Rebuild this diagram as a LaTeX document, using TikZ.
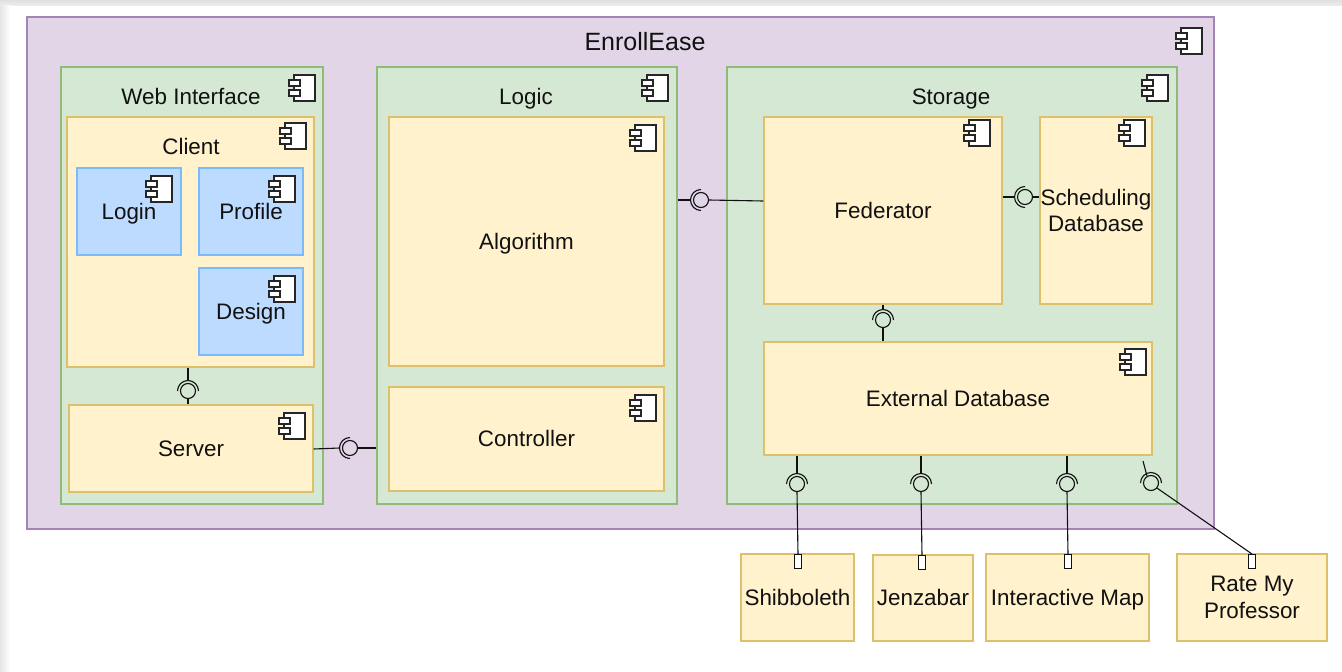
\documentclass[tikz,border=0pt]{standalone}
\usepackage{fontspec}
\setmainfont{Liberation Sans}
\definecolor{purpf}{HTML}{E1D5E7}\definecolor{purpd}{HTML}{A484B3}
\definecolor{grnf}{HTML}{D5E8D4}\definecolor{grnd}{HTML}{8FBB78}
\definecolor{yelf}{HTML}{FFF2CC}\definecolor{yeld}{HTML}{DDC06C}
\definecolor{bluf}{HTML}{BDDBFF}\definecolor{blud}{HTML}{7ABBFF}
\definecolor{ink}{HTML}{111111}
\tikzset{
  base/.style={rectangle,inner sep=0pt,line width=1.3pt,align=center,text=ink,font=\fontsize{22.4}{26.5}\selectfont},
  one/.style={text height=15pt,text depth=0pt},
  purp/.style={base,draw=purpd,fill=purpf},
  grn/.style={base,draw=grnd,fill=grnf},
  yel/.style={base,draw=yeld,fill=yelf},
  blu/.style={base,draw=blud,fill=bluf},
  title/.style={inner sep=0pt,anchor=base,text=ink,font=\fontsize{22.4}{26.5}\selectfont},
  ball/.style={circle,draw=ink,line width=1.1pt,minimum size=15pt,inner sep=0pt},
  wire/.style={draw=ink,line width=1.1pt},
  portbox/.style={rectangle,draw=ink,fill=white,line width=1.1pt,minimum width=7pt,minimum height=14pt,inner sep=0pt},
  ic/.style={draw=black!85,line width=1.2pt,fill=white}
}
% name, x0, y0, x1, y1, style, text
\newcommand{\cbox}[7]{%
  \pgfmathsetmacro{\cx}{(#2+#4)/2}\pgfmathsetmacro{\cy}{(#3+#5)/2}%
  \pgfmathsetmacro{\cw}{#4-#2}\pgfmathsetmacro{\ch}{#5-#3}%
  \node[#6,minimum width=\cw pt,minimum height=\ch pt] (#1) at (\cx,\cy) {#7};}
% right edge, top
\newcommand{\cicon}[2]{%
  \pgfmathsetmacro{\ia}{#1-26}\pgfmathsetmacro{\ib}{#1-21}\pgfmathsetmacro{\ic}{#1-15}%
  \pgfmathsetmacro{\ja}{#2+26}\pgfmathsetmacro{\jb}{#2+5}\pgfmathsetmacro{\jc}{#2+11}%
  \pgfmathsetmacro{\jd}{#2+15}\pgfmathsetmacro{\je}{#2+21}%
  \draw[ic] (\ib,#2) rectangle (#1,\ja);
  \draw[ic] (\ia,\jb) rectangle (\ic,\jc);
  \draw[ic] (\ia,\jd) rectangle (\ic,\je);}
% socket arcs, around a named ball
\newcommand{\sockettop}[1]{\draw[wire] ([xshift=-10.5pt]#1.center) arc[start angle=180,end angle=0,radius=10.5pt];}
\newcommand{\socketleft}[1]{\draw[wire] ([yshift=10.5pt]#1.center) arc[start angle=90,end angle=270,radius=10.5pt];}
\begin{document}
\begin{tikzpicture}[x=1pt,y=-1pt]
\useasboundingbox (0,0) rectangle (1342,672);
\fill[white] (0,0) rectangle (1342,672);
\shade[top color=black!12,bottom color=black!7,draw=none] (0,0) rectangle (1342,5.5);
\shade[left color=black!10,right color=white,draw=none] (0,5.5) rectangle (10,672);

\cbox{enroll}{27}{17}{1214}{529}{purp}{}
\node[title,font=\fontsize{25}{30}\selectfont] (enrollt) at (645,50) {EnrollEase};
\cicon{1202}{28}

\cbox{web}{61}{67}{323}{504}{grn}{}
\node[title] (webt) at (191,104.5) {Web Interface};
\cicon{315}{75}
\cbox{client}{67}{117}{314}{367}{yel}{}
\node[title] (clientt) at (191,154.5) {Client};
\cicon{306}{123}
\cbox{login}{77}{168}{181}{255}{blu,one}{Login}
\cicon{172}{176}
\cbox{profile}{199}{168}{303}{255}{blu,one}{Profile}
\cicon{295}{176}
\cbox{design}{199}{268}{303}{355}{blu,one}{Design}
\cicon{295}{276}
\cbox{server}{69}{405}{313}{492}{yel,one}{Server}
\cicon{305}{413}

\cbox{logic}{377}{67}{677}{504}{grn}{}
\node[title] (logict) at (526,104.5) {Logic};
\cicon{668}{75}
\cbox{algo}{389}{117}{664}{366}{yel,one}{Algorithm}
\cicon{656}{125}
\cbox{ctrl}{389}{387}{664}{491}{yel,one}{Controller}
\cicon{656}{395}

\cbox{storage}{727}{67}{1177}{504}{grn}{}
\node[title] (storaget) at (951,104.5) {Storage};
\cicon{1168}{75}
\cbox{fed}{764}{117}{1002}{304}{yel,one}{Federator}
\cicon{990}{120}
\cbox{sched}{1040}{117}{1152}{304}{yel}{Scheduling\\Database}
\cicon{1145}{120}
\cbox{ext}{764}{342}{1152}{455}{yel,one}{External Database}
\cicon{1146}{349}

\cbox{shib}{741}{554}{854}{641}{yel,one}{Shibboleth}
\cbox{jenz}{873}{555}{973}{641}{yel,one}{Jenzabar}
\cbox{imap}{986}{554}{1149}{641}{yel,one}{Interactive Map}
\cbox{rate}{1177}{554}{1327}{641}{yel}{Rate My\\Professor}

\node[portbox,anchor=north] (pshib) at (798,554) {};
\node[portbox,anchor=north] (pjenz) at (922,555) {};
\node[portbox,anchor=north] (pimap) at (1068,554) {};
\node[portbox,anchor=north] (prate) at (1252,554) {};

\node[ball] (ia) at (701,200) {};
\node[ball] (ib) at (1025,197) {};
\node[ball] (ic) at (883,320) {};
\node[ball] (id) at (188,391) {};
\node[ball] (ie) at (350,448) {};
\node[ball] (if) at (797,484) {};
\node[ball] (ig) at (921,484) {};
\node[ball] (ih) at (1067,484) {};
\node[ball] (ii) at (1151,483) {};
\coordinate (iistub) at (1143,461);

\socketleft{ia}\socketleft{ib}\socketleft{ie}
\sockettop{ic}\sockettop{id}\sockettop{if}\sockettop{ig}\sockettop{ih}\sockettop{ii}

\draw[wire] (logic.east |- ia) -- ([xshift=-10.5pt]ia.center);
\draw[wire] (ia.east) -- (fed.west |- 0,201);
\draw[wire] (fed.east |- ib) -- ([xshift=-10.5pt]ib.center);
\draw[wire] (ib.east) -- (sched.west |- ib);
\draw[wire] (fed.south -| ic) -- ([yshift=10.5pt]ic.center);
\draw[wire] (ic.south) -- (ext.north -| ic);
\draw[wire] (client.south -| id) -- ([yshift=10.5pt]id.center);
\draw[wire] (id.south) -- (server.north -| id);
\draw[wire] (server.east |- 0,449) -- ([xshift=-10.5pt]ie.center);
\draw[wire] (ie.east) -- (logic.west |- ie);
\draw[wire] (ext.south -| if) -- ([yshift=10.5pt]if.center);
\draw[wire] (if.south) -- (pshib.north);
\draw[wire] (ext.south -| ig) -- ([yshift=10.5pt]ig.center);
\draw[wire] (ig.south) -- (pjenz.north);
\draw[wire] (ext.south -| ih) -- ([yshift=10.5pt]ih.center);
\draw[wire] (ih.south) -- (pimap.north);
\draw[wire] (iistub) -- (ii.120);
\draw[wire] (ii.-40) -- (prate.north);
\end{tikzpicture}
\end{document}
